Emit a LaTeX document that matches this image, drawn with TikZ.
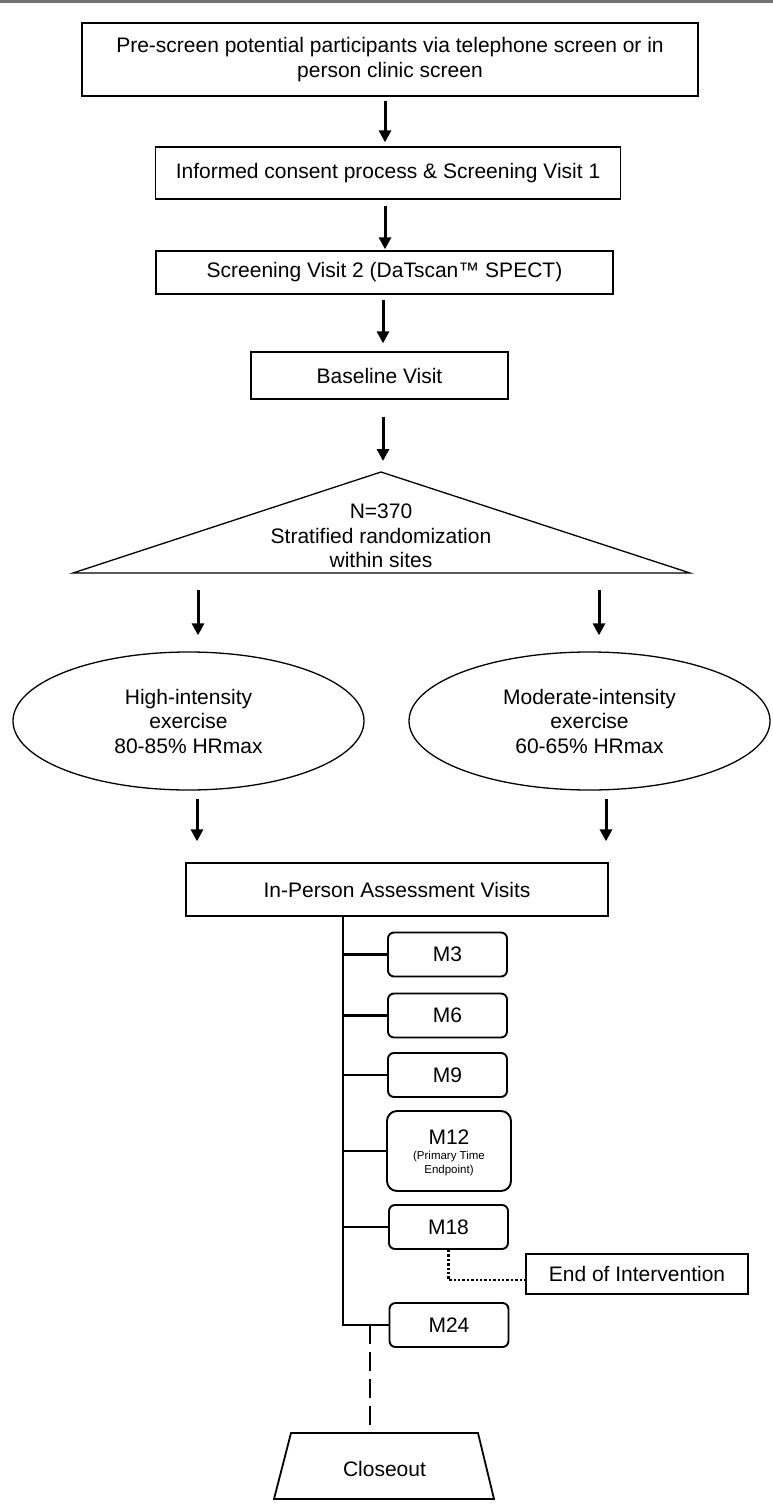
\documentclass[tikz,border=0pt]{standalone}
\usepackage{fontspec}
\setmainfont{Liberation Sans}
\usetikzlibrary{shapes.geometric,arrows.meta}
\begin{document}
\begin{tikzpicture}[x=1pt,y=-1pt,
  every node/.style={font=\fontsize{21}{24.5}\selectfont, inner sep=0pt, align=center},
  sqbox/.style={draw, line width=1.3pt, rectangle},
  mbox/.style={draw, line width=1.9pt, rounded corners=6pt, minimum width=119pt, minimum height=44pt},
  oval/.style={draw, line width=1.3pt, ellipse},
  flow/.style={line width=3pt, -{Triangle[length=12pt,width=12pt]}},
  tree/.style={line width=2.6pt},
  dotline/.style={line width=2.4pt, dash pattern=on 2.4pt off 2pt},
  dashline/.style={line width=2.8pt, dash pattern=on 19pt off 8pt},
  small/.style={font=\fontsize{11.5}{13.3}\selectfont}
]
\useasboundingbox (0,0) rectangle (773,1509);
\draw[line width=2.6pt, black!55] (0,1.3) -- (773,1.3);

% main column
\node[sqbox, minimum width=616pt, minimum height=73pt] (b1) at (390,59.5)
  {Pre-screen potential participants via telephone screen or in\\person clinic screen};
\node[sqbox, minimum width=465pt, minimum height=52pt] (b2) at (388,173)
  {Informed consent process \& Screening Visit 1};
\node[sqbox, minimum width=457pt, minimum height=43pt] (b3) at (384.5,272.5)
  {Screening Visit 2 (DaTscan™ SPECT)};
\node[sqbox, minimum width=257pt, minimum height=47pt] (b4) at (379.5,375.5)
  {Baseline Visit};

% triangle
\coordinate (tA) at (381,472);
\coordinate (tL) at (73,573);
\coordinate (tR) at (690,573);
\draw[line width=1.3pt, line join=miter] (tA) -- (tR) -- (tL) -- cycle;
\node (rand) at (381,536) {N=370\\Stratified randomization\\within sites};

% ellipses
\node[oval, minimum width=351pt, minimum height=138pt] (le) at (188.5,721)
  {High-intensity\\exercise\\80-85\% HRmax};
\node[oval, minimum width=361pt, minimum height=138pt] (re) at (589.5,721)
  {Moderate-intensity\\exercise\\60-65\% HRmax};

\node[sqbox, minimum width=422pt, minimum height=53pt] (ipa) at (397,889.5)
  {In-Person Assessment Visits};

% visit boxes
\node[mbox] (m3) at (447.5,954.5) {M3};
\node[mbox] (m6) at (447.5,1015.5) {M6};
\node[mbox] (m9) at (447.5,1075) {M9};
\node[mbox, minimum width=124pt, minimum height=80pt, rounded corners=10pt] (m12) at (449,1151) {};
\node (m12t) at (449,1137) {M12};
\node[small] (m12s) at (449,1163.5) {(Primary Time\\Endpoint)};
\node[mbox] (m18) at (448.5,1227) {M18};
\node[mbox] (m24) at (449,1325) {M24};
\node[sqbox, minimum width=222pt, minimum height=40pt] (eoi) at (637,1274) {End of Intervention};

% closeout trapezoid
\coordinate (cTL) at (291,1433);
\coordinate (cTR) at (478,1433);
\coordinate (cBR) at (494,1499);
\coordinate (cBL) at (274,1499);
\draw[line width=1.8pt, line join=miter] (cTL) -- (cTR) -- (cBR) -- (cBL) -- cycle;
\node (close) at (384.5,1469) {Closeout};

% arrows
\coordinate (ax) at (385,0);
\coordinate (ay) at (383,0);
\coordinate (l1) at (198,0);
\coordinate (r1) at (599,0);
\coordinate (l2) at (197,0);
\coordinate (r2) at (606,0);
\draw[flow, shorten <=4pt, shorten >=4pt] (b1.south -| ax) -- (b2.north -| ax);
\draw[flow, shorten <=6pt, shorten >=1pt] (b2.south -| ax) -- (b3.north -| ax);
\draw[flow, shorten <=5pt, shorten >=8pt] (b3.south -| ay) -- (b4.north -| ay);
\draw[flow, shorten <=17pt, shorten >=11pt] (b4.south -| ay) -- (tA -| ay);
\draw[flow, shorten <=17pt, shorten >=16pt] (tL -| l1) -- (le.north -| l1);
\draw[flow, shorten <=17pt, shorten >=16pt] (tR -| r1) -- (re.north -| r1);
\draw[flow, shorten <=8pt, shorten >=21pt] (le.south -| l2) -- (ipa.north -| l2);
\draw[flow, shorten <=8pt, shorten >=21pt] (re.south -| r2) -- (ipa.north -| r2);

% tree
\coordinate (vt) at (343,0);
\draw[tree] (ipa.south -| vt) |- (m24.west);
\foreach \m in {m3,m6,m9,m12,m18} \draw[tree] (\m.west -| vt) -- (\m.west);
\draw[dotline] (m18.south) |- ([yshift=-6pt]eoi.west);
\coordinate (j24) at (370,1325);
\draw[dashline] (j24) -- (j24 |- cTL);
\end{tikzpicture}
\end{document}
